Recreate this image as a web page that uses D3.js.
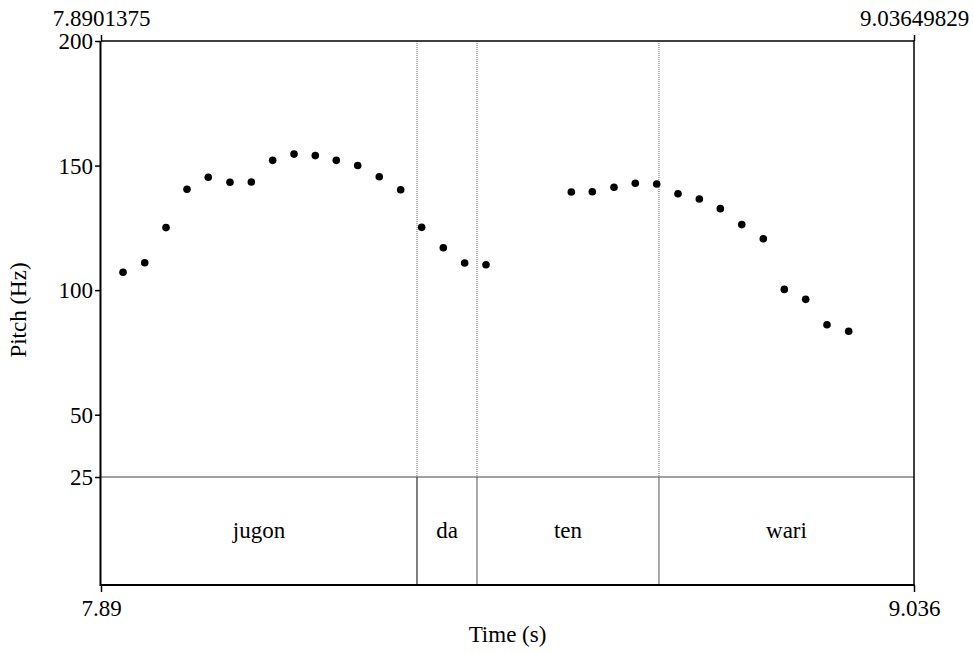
<!DOCTYPE html>
<html><head><meta charset="utf-8">
<script src="https://cdn.jsdelivr.net/npm/d3@7"></script>
<style>
html,body{margin:0;padding:0;background:#fff;}
svg text{font-family:"Liberation Serif","Tinos","Times New Roman",Times,"DejaVu Serif","Noto Serif",serif !important;fill:#000;}
</style></head>
<body>
<svg id="chart" width="973" height="653"></svg>
<script>
// ---- data ----
const timeStart = 7.8901375;
const timeEnd = 9.03649829;
const pitchTicks = [25, 50, 100, 150, 200];
const pitchTimes = [7.9212, 7.9518, 7.9818, 8.0114, 8.0414, 8.0720, 8.1021, 8.1322, 8.1623, 8.1923,
  8.2219, 8.2521, 8.2825, 8.3127, 8.3423, 8.3728, 8.4029, 8.4330,
  8.5533, 8.5829, 8.6135, 8.6435, 8.6737, 8.7037, 8.7338, 8.7634, 8.7936, 8.8240, 8.8536, 8.8838, 8.9138, 8.9444];
const pitchValues = [107.2, 111.0, 125.1, 140.5, 145.3, 143.3, 143.4, 152.1, 154.6, 154.0,
  152.1, 150.0, 145.5, 140.3, 125.2, 117.0, 110.9, 110.2,
  139.4, 139.5, 141.3, 142.9, 142.6, 138.7, 136.6, 132.7, 126.3, 120.6, 100.3, 96.3, 86.1, 83.5];
const intervalLabels = ["jugon", "da", "ten", "wari"];
const boundaries = [7.8901375, 8.3357, 8.4203, 8.6769, 9.03649829];
const topLabels = ["7.8901375", "9.03649829"];
const bottomLabels = ["7.89", "9.036"];

// ---- layout ----
const svg = d3.select("#chart");
const L = 101, R = 914, T = 41, P = 477, B = 585;
const FS = 23;
const FF = "'Liberation Serif', Tinos, 'Times New Roman', Times, 'DejaVu Serif', serif";
const x = d3.scaleLinear().domain([timeStart, timeEnd]).range([L, R]);
const y = d3.scaleLinear().domain([25, 200]).range([P, T]);

// interval boundaries (dotted in pitch area, solid in tier)
boundaries.slice(1, -1).forEach((b, i) => {
  svg.append("line").attr("x1", x(b)).attr("x2", x(b)).attr("y1", T).attr("y2", P)
    .attr("stroke", "#666").attr("stroke-width", 1).attr("stroke-dasharray", "1,1");
  svg.append("line").attr("x1", x(b)).attr("x2", x(b)).attr("y1", P).attr("y2", B)
    .attr("stroke", i === 0 ? "#000" : "#555").attr("stroke-width", 1);
});
// tier separator
svg.append("line").attr("x1", L).attr("x2", R).attr("y1", P).attr("y2", P)
  .attr("stroke", "#444").attr("stroke-width", 1);

// tier labels
intervalLabels.forEach((lab, i) => {
  svg.append("text").attr("x", (x(boundaries[i]) + x(boundaries[i + 1])) / 2)
    .attr("y", (P + B) / 2 + 7).attr("text-anchor", "middle")
    .attr("font-family", FF).attr("font-size", FS).text(lab);
});

// frame
svg.append("line").attr("x1", L).attr("x2", R).attr("y1", T).attr("y2", T).attr("stroke", "#000").attr("stroke-width", 1.5);
svg.append("line").attr("x1", R).attr("x2", R).attr("y1", T).attr("y2", B).attr("stroke", "#000").attr("stroke-width", 1.5);
svg.append("line").attr("x1", L - 0.5).attr("x2", R + 0.75).attr("y1", B).attr("y2", B).attr("stroke", "#000").attr("stroke-width", 2);
svg.append("line").attr("x1", L - 0.5).attr("x2", L - 0.5).attr("y1", T).attr("y2", B + 1).attr("stroke", "#000").attr("stroke-width", 2);

// left pitch axis
const yAxis = d3.axisLeft(y).tickValues(pitchTicks).tickSize(5).tickPadding(2).tickFormat(d3.format("d"));
const ga = svg.append("g").attr("transform", `translate(${L - 1},0)`).call(yAxis).attr("font-family", FF);
ga.select(".domain").remove();
ga.selectAll("line").attr("stroke", "#000").attr("stroke-width", 1.5);
ga.selectAll("text").attr("font-size", FS).attr("font-family", FF).attr("dy", "0.34em");

// top time ticks/labels
const gt = svg.append("g").attr("transform", `translate(0,${T})`)
  .call(d3.axisTop(x).tickValues([timeStart, timeEnd]).tickSize(6).tickPadding(9).tickFormat((d, i) => topLabels[i])).attr("font-family", FF);
gt.select(".domain").remove();
gt.selectAll("line").attr("stroke", "#000").attr("stroke-width", 1.5);
gt.selectAll("text").attr("font-size", FS).attr("font-family", FF);

// bottom time ticks/labels
const gb = svg.append("g").attr("transform", `translate(0,${B})`)
  .call(d3.axisBottom(x).tickValues([timeStart, timeEnd]).tickSize(7).tickPadding(8).tickFormat((d, i) => bottomLabels[i])).attr("font-family", FF);
gb.select(".domain").remove();
gb.selectAll("line").attr("stroke", "#000").attr("stroke-width", 1.5);
gb.selectAll("text").attr("font-size", FS).attr("font-family", FF);

// axis titles
svg.append("text").attr("x", (L + R) / 2).attr("y", 642).attr("text-anchor", "middle")
  .attr("font-family", FF).attr("font-size", FS).text("Time (s)");
svg.append("text").attr("transform", "translate(26,310) rotate(-90)").attr("text-anchor", "middle")
  .attr("font-family", FF).attr("font-size", FS).text("Pitch (Hz)");

// pitch points
svg.append("g").selectAll("circle").data(pitchTimes.map((t, i) => [t, pitchValues[i]]))
  .join("circle").attr("cx", d => x(d[0])).attr("cy", d => y(d[1])).attr("r", 3.8).attr("fill", "#000");
</script>
</body></html>
